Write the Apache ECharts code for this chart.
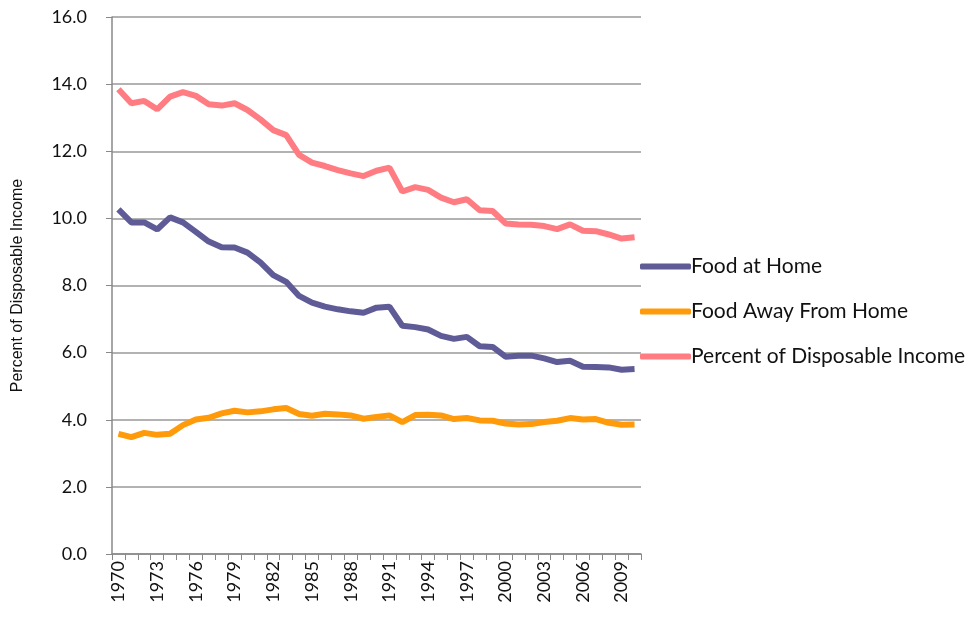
<!DOCTYPE html>
<html>
<head>
<meta charset="utf-8">
<title>Food spending as percent of disposable income</title>
<script src="https://cdn.jsdelivr.net/npm/echarts@6/dist/echarts.min.js"></script>
<style>
  html, body { margin: 0; padding: 0; background: #fff; }
  #chart { width: 972px; height: 619px; }
</style>
</head>
<body>
<div id="chart"></div>
<script>
// years 1970 - 2010
const years = []
for (let y = 1970; y <= 2010; y++) years.push(String(y))

const foodAtHome = [
  10.27, 9.88, 9.88, 9.67, 10.03, 9.88, 9.6, 9.31, 9.14, 9.13,
  8.98, 8.69, 8.31, 8.11, 7.69, 7.49, 7.37, 7.29, 7.23, 7.19,
  7.34, 7.37, 6.8, 6.76, 6.69, 6.5, 6.41, 6.47, 6.19, 6.17,
  5.88, 5.91, 5.91, 5.83, 5.72, 5.76, 5.58, 5.57, 5.56, 5.49,
  5.51
]

const foodAway = [
  3.58, 3.48, 3.61, 3.55, 3.58, 3.84, 4.01, 4.06, 4.19, 4.27,
  4.22, 4.25, 4.31, 4.35, 4.17, 4.12, 4.18, 4.16, 4.13, 4.03,
  4.08, 4.13, 3.93, 4.14, 4.15, 4.13, 4.02, 4.05, 3.98, 3.97,
  3.89, 3.86, 3.87, 3.93, 3.97, 4.05, 4.01, 4.02, 3.91, 3.85,
  3.86
]

const percentIncome = [
  13.85, 13.43, 13.5, 13.25, 13.63, 13.76, 13.65, 13.4, 13.36, 13.43,
  13.23, 12.95, 12.63, 12.48, 11.89, 11.66, 11.56, 11.44, 11.34, 11.26,
  11.42, 11.51, 10.8, 10.93, 10.85, 10.62, 10.48, 10.57, 10.24, 10.22,
  9.85, 9.82, 9.81, 9.77, 9.68, 9.82, 9.63, 9.62, 9.52, 9.4,
  9.44
]

const seriesNames = ['Food at Home', 'Food Away From Home', 'Percent of Disposable Income']
const colors = ['#5f5b97', '#ff9b0a', '#ff7c82']

const chart = echarts.init(document.getElementById('chart'))

const mkLine = (name, data, color) => ({
  name,
  type: 'line',
  data,
  symbol: 'none',
  animation: false,
  lineStyle: { width: 6, color },
  itemStyle: { color }
})

chart.setOption({
  textStyle: { fontFamily: 'Lato' },
  grid: {
    left: 112,
    right: 331,
    top: 17,
    bottom: 65,
    outerBoundsMode: 'none'
  },
  legend: {
    orient: 'vertical',
    left: 635,
    top: 251,
    itemWidth: 51,
    itemHeight: 6,
    itemGap: 24,
    icon: 'roundRect',
    data: seriesNames,
    textStyle: { fontSize: 21, color: '#111', padding: [0, 0, 0, -5] }
  },
  xAxis: {
    type: 'category',
    data: years,
    boundaryGap: true,
    axisLine: { lineStyle: { color: '#888', width: 1.5 } },
    axisTick: { show: true, interval: 0, length: 6, lineStyle: { color: '#888' } },
    axisLabel: {
      interval: 2,
      rotate: 90,
      fontSize: 18,
      color: '#111',
      margin: 7
    },
    splitLine: { show: false }
  },
  yAxis: {
    type: 'value',
    min: 0,
    max: 16,
    interval: 2,
    name: 'Percent of Disposable Income',
    nameLocation: 'middle',
    nameGap: 86,
    nameTextStyle: { fontFamily: 'Liberation Sans', fontSize: 16, color: '#111' },
    axisLine: { show: true, lineStyle: { color: '#888', width: 1.5 } },
    axisTick: { show: true, length: 6, lineStyle: { color: '#888' } },
    axisLabel: {
      fontSize: 18,
      color: '#111',
      margin: 25,
      formatter: v => v.toFixed(1)
    },
    splitLine: { lineStyle: { color: '#999', width: 1.5 } }
  },
  series: [
    mkLine(seriesNames[0], foodAtHome, colors[0]),
    mkLine(seriesNames[1], foodAway, colors[1]),
    mkLine(seriesNames[2], percentIncome, colors[2])
  ]
})
</script>
</body>
</html>
